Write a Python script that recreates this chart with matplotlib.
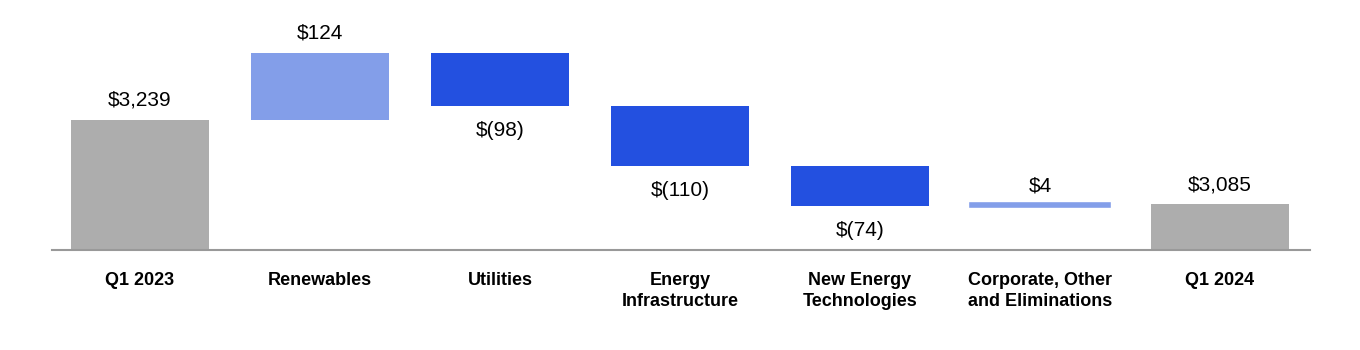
import matplotlib.pyplot as plt
import numpy as np

plt.rcParams['font.family'] = ['Liberation Sans', 'DejaVu Sans']

# Datos del puente Q1 2023 -> Q1 2024
categories = ['Q1 2023', 'Renewables', 'Utilities', 'Energy\nInfrastructure',
              'New Energy\nTechnologies', 'Corporate, Other\nand Eliminations', 'Q1 2024']
start_total = 3239
changes = [124, -98, -110, -74, 4]
end_total = 3085
value_labels = ['$3,239', '$124', '$(98)', '$(110)', '$(74)', '$4', '$3,085']

gray = '#ADADAD'
light_blue = '#839EE9'
dark_blue = '#2350E0'
y_min = 3000

fig = plt.figure(figsize=(13.6, 3.5), dpi=100)
ax = fig.add_axes([52 / 1360, 100 / 350, (1310 - 52) / 1360, 240 / 350])

x = np.arange(len(categories))
width = 0.767

# Barras de totales
ax.bar(x[0], start_total - y_min, bottom=y_min, width=width, color=gray, linewidth=0)
ax.bar(x[-1], end_total - y_min, bottom=y_min, width=width, color=gray, linewidth=0)

# Barras de variaciones
level = start_total
for i, ch in enumerate(changes, start=1):
    color = light_blue if ch > 0 else dark_blue
    bottom = level if ch > 0 else level + ch
    lw = 2.6 if abs(ch) < 10 else 0
    ax.bar(x[i], abs(ch), bottom=bottom, width=width, color=color,
           edgecolor=color, linewidth=lw)
    level += ch

# Etiquetas de valor
level = start_total
tops = [start_total]
for ch in changes:
    tops.append((level, ch))
    level += ch
for i, label in enumerate(value_labels):
    if i == 0:
        y, off = start_total, 14.4
    elif i == len(value_labels) - 1:
        y, off = end_total, 13.5
    else:
        lev, ch = tops[i]
        if ch > 0:
            y, off = lev + ch, 12.5 if ch < 10 else 14.4
        else:
            y, off = lev + ch, -18
    ax.annotate(label, xy=(x[i], y), xytext=(0, off), textcoords='offset points',
                ha='center', va='center', fontsize=15, color='black')

ax.set_xlim(-0.489, 6.5)
ax.set_ylim(y_min, y_min + 240 * 1.84)
ax.set_xticks(x)
ax.set_xticklabels(categories, fontsize=13, fontweight='bold', linespacing=1.38)
ax.tick_params(axis='x', length=0, pad=15.5)
ax.set_yticks([])
for side in ['top', 'right', 'left']:
    ax.spines[side].set_visible(False)
ax.spines['bottom'].set_color('#999999')
ax.spines['bottom'].set_linewidth(1.5)

plt.savefig('out.png', dpi=100)
